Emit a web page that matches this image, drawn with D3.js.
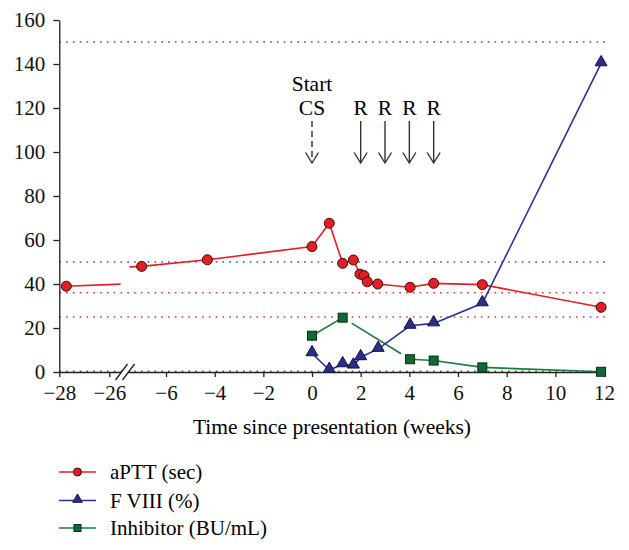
<!DOCTYPE html>
<html><head><meta charset="utf-8"><script src="https://cdn.jsdelivr.net/npm/d3@7"></script>
<style>
  svg text, text { font-family: "Liberation Serif", "Times New Roman", Tinos, serif !important; }
</style>
</head>
<body style="margin:0">
<svg id="s" width="629" height="550"><style>text { font-family: "Liberation Serif", "Times New Roman", Tinos, serif !important; }</style></svg>
<script>
// ---- data ----
const aPTTWeeks  = [-27.72, -7.0, -4.3, 0, 0.71, 1.26, 1.70, 1.97, 2.14, 2.27, 2.70, 4.03, 5.0, 7.0, 11.88];
const aPTTValues = [39, 48, 51, 57, 67.6, 49.4, 50.9, 44.5, 43.8, 41.0, 40.0, 38.5, 40.3, 39.7, 29.4];

const f8Weeks  = [0, 0.71, 1.26, 1.70, 2.0, 2.72, 4.03, 5.0, 7.0, 11.88];
const f8Values = [8.5, 0.9, 3.5, 2.9, 6.7, 10.5, 21.0, 22.1, 31.2, 140.3];

const inhWeeks  = [0, 1.26, 4.03, 5.0, 7.0, 11.88];
const inhValues = [16.5, 24.7, 5.8, 5.2, 2.1, 0.1];
const inhGapSegments = [1]; // segment drawn with gaps at both ends

const xTickValues = [-28, -26, -6, -4, -2, 0, 2, 4, 6, 8, 10, 12];
const yTickValues = [0, 20, 40, 60, 80, 100, 120, 140, 160];

const refLines = [
  {value: 150, color: "#4a4aa6"},
  {value: 50,  color: "#4a4aa6"},
  {value: 36,  color: "#e2303c"},
  {value: 25,  color: "#e2303c"},
  {value: 0.3, color: "#1b7a3e"}
];

const eventWeeks  = [0, 2, 3, 4, 5];
const eventLabels = [["Start", "CS"], ["R"], ["R"], ["R"], ["R"]];
const eventDashed = [true, false, false, false, false];

const breakLo = -25.55, breakHi = -7.5;

const legendLabels = ["aPTT (sec)", "F VIII (%)", "Inhibitor (BU/mL)"];

// ---- scales ----
const svg = d3.select("#s");
const x = d3.scaleLinear()
  .domain([-28, breakLo, breakHi, 12])
  .range([59.3, 59.3 + (breakLo + 28) * 25, 166 - (-6 - breakHi) * 24.33, 604]);
const y = d3.scaleLinear().domain([0, 160]).range([372, 20]);

const RED = "#e31e24", BLUE = "#2e3192", GREEN = "#1b7a3e";

function styleText(sel, size) {
  return sel.style("font-family", '"Liberation Serif"', "important").attr("font-size", size);
}

// reference dotted lines
svg.append("g").selectAll("line").data(refLines).join("line")
  .attr("x1", x(-28)).attr("x2", x(12) + 2)
  .attr("y1", d => y(d.value)).attr("y2", d => y(d.value))
  .attr("stroke", d => d.color).attr("stroke-width", 1.6)
  .attr("stroke-dasharray", "1.6,5.2");

// axes
const yAxis = svg.append("g").attr("transform", `translate(${x(-28)},0)`)
  .call(d3.axisLeft(y).tickValues(yTickValues).tickSize(6).tickSizeOuter(0).tickPadding(8));
const xAxis = svg.append("g").attr("transform", `translate(0,${y(0)})`)
  .call(d3.axisBottom(x).tickValues(xTickValues).tickSize(5).tickSizeOuter(0).tickPadding(8)
    .tickFormat(d3.format("d")));
[yAxis, xAxis].forEach(a => {
  a.attr("font-family", "Liberation Serif").attr("font-size", 21);
  a.select(".domain").attr("stroke", "#222").attr("stroke-width", 1.3);
  a.selectAll(".tick line").attr("stroke", "#222").attr("stroke-width", 1.3);
  styleText(a.selectAll("text"), 21).attr("fill", "#111");
});

// axis break marker
const bx = (x(breakLo) + x(breakHi)) / 2, by = y(0);
svg.append("polygon")
  .attr("points", [[bx - 9.5, by + 8], [bx + 2.5, by - 8], [bx + 9.5, by - 8], [bx - 2.5, by + 8]].map(p => p.join(",")).join(" "))
  .attr("fill", "#fff");
[-3.5, 3.5].forEach(o => {
  svg.append("line")
    .attr("x1", bx - 6 + o).attr("y1", by + 8)
    .attr("x2", bx + 6 + o).attr("y2", by - 8)
    .attr("stroke", "#222").attr("stroke-width", 1.3);
});

// helper: split series at the axis break
function splitAtBreak(ws, vs) {
  const segs = [];
  let cur = [];
  for (let i = 0; i < ws.length; i++) {
    if (i > 0 && ws[i - 1] < breakLo && ws[i] > breakHi) {
      const t1 = (breakLo - ws[i - 1]) / (ws[i] - ws[i - 1]);
      const t2 = (breakHi - ws[i - 1]) / (ws[i] - ws[i - 1]);
      cur.push([breakLo, vs[i - 1] + t1 * (vs[i] - vs[i - 1])]);
      segs.push(cur);
      cur = [[breakHi, vs[i - 1] + t2 * (vs[i] - vs[i - 1])]];
    }
    cur.push([ws[i], vs[i]]);
  }
  segs.push(cur);
  return segs;
}
const lineGen = d3.line().x(d => x(d[0])).y(d => y(d[1]));

// red line
svg.append("g").selectAll("path").data(splitAtBreak(aPTTWeeks, aPTTValues)).join("path")
  .attr("d", lineGen).attr("fill", "none").attr("stroke", RED).attr("stroke-width", 1.6);

// green line (segments, some with gaps)
const gGreen = svg.append("g");
for (let i = 0; i < inhWeeks.length - 1; i++) {
  let x1 = x(inhWeeks[i]), y1 = y(inhValues[i]), x2 = x(inhWeeks[i + 1]), y2 = y(inhValues[i + 1]);
  if (inhGapSegments.includes(i)) {
    const L = Math.hypot(x2 - x1, y2 - y1), g = 10.5;
    const ux = (x2 - x1) / L, uy = (y2 - y1) / L;
    x1 += ux * g; y1 += uy * g; x2 -= ux * g; y2 -= uy * g;
  }
  gGreen.append("line").attr("x1", x1).attr("y1", y1).attr("x2", x2).attr("y2", y2)
    .attr("stroke", GREEN).attr("stroke-width", 1.6);
}

// blue line
svg.append("path").datum(f8Weeks.map((w, i) => [w, f8Values[i]]))
  .attr("d", lineGen).attr("fill", "none").attr("stroke", BLUE).attr("stroke-width", 1.6);

// markers
const triSym = d3.symbol().type(d3.symbolTriangle);
svg.append("g").selectAll("rect").data(inhWeeks.map((w, i) => [w, inhValues[i]])).join("rect")
  .attr("x", d => x(d[0]) - 4.5).attr("y", d => y(d[1]) - 4.5)
  .attr("width", 9).attr("height", 9)
  .attr("fill", "#0e6b33").attr("stroke", "#0b2a14").attr("stroke-width", 1);
svg.append("g").selectAll("path").data(f8Weeks.map((w, i) => [w, f8Values[i]])).join("path")
  .attr("d", triSym.size(62))
  .attr("transform", d => `translate(${x(d[0])},${y(d[1]) - 1})`)
  .attr("fill", "#2b2d8c").attr("stroke", "#14143c").attr("stroke-width", 1);
svg.append("g").selectAll("circle").data(aPTTWeeks.map((w, i) => [w, aPTTValues[i]])).join("circle")
  .attr("cx", d => x(d[0])).attr("cy", d => y(d[1])).attr("r", 5)
  .attr("fill", "#e31e24").attr("stroke", "#3a0b0b").attr("stroke-width", 1);

// event arrows
eventWeeks.forEach((w, i) => {
  const cx = x(w);
  const labels = eventLabels[i];
  labels.forEach((t, j) => {
    styleText(svg.append("text"), 21.5)
      .attr("x", cx).attr("y", 115 - (labels.length - 1 - j) * 24)
      .attr("text-anchor", "middle").text(t);
  });
  svg.append("line").attr("x1", cx).attr("x2", cx).attr("y1", 121).attr("y2", 162.5)
    .attr("stroke", "#333").attr("stroke-width", 1.4)
    .attr("stroke-dasharray", eventDashed[i] ? "6,4" : null);
  svg.append("path")
    .attr("d", `M${cx - 6.5},${152.5} L${cx},${163} L${cx + 6.5},${152.5}`)
    .attr("fill", "none").attr("stroke", "#333").attr("stroke-width", 1.4);
});

// axis title
styleText(svg.append("text"), 21.5)
  .attr("x", 332).attr("y", 434).attr("text-anchor", "middle")
  .text("Time since presentation (weeks)");

// legend
const legColors = [RED, BLUE, GREEN];
const legY = [472, 500.5, 528];
legendLabels.forEach((lab, i) => {
  const ly = legY[i];
  svg.append("line").attr("x1", 59).attr("x2", 96).attr("y1", ly).attr("y2", ly)
    .attr("stroke", legColors[i]).attr("stroke-width", 1.6);
  if (i === 0) {
    svg.append("circle").attr("cx", 77.5).attr("cy", ly).attr("r", 4)
      .attr("fill", "#e31e24").attr("stroke", "#3a0b0b").attr("stroke-width", 1);
  } else if (i === 1) {
    svg.append("path").attr("d", d3.symbol().type(d3.symbolTriangle).size(40)())
      .attr("transform", `translate(77.5,${ly - 1})`)
      .attr("fill", "#2b2d8c").attr("stroke", "#14143c").attr("stroke-width", 1);
  } else {
    svg.append("rect").attr("x", 74).attr("y", ly - 3.5).attr("width", 7).attr("height", 7)
      .attr("fill", "#0e6b33").attr("stroke", "#0b2a14").attr("stroke-width", 1);
  }
  styleText(svg.append("text"), 21).attr("x", 110).attr("y", ly + 7).text(lab);
});
</script></body></html>
